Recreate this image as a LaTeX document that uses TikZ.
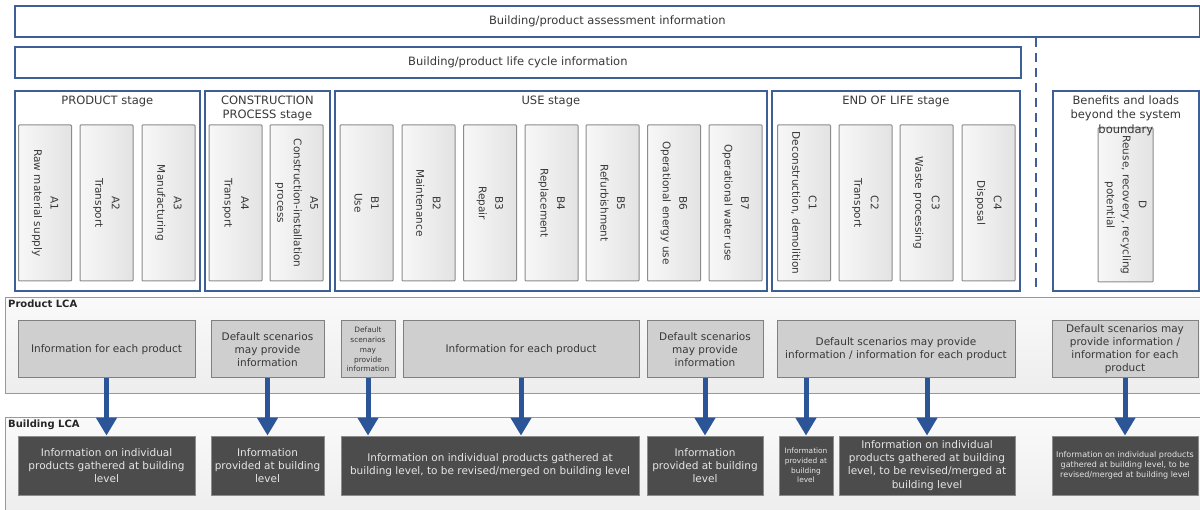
\documentclass[tikz,border=0pt]{standalone}
\usepackage{fontspec}
\setmainfont{DejaVu Sans}
\usetikzlibrary{arrows.meta,positioning}
\definecolor{stageblue}{HTML}{3D5E96}
\definecolor{arrowblue}{HTML}{2B5597}
\colorlet{txtgray}{black!78}
\newcommand{\modrow}{203}
\newcommand{\prow}{349.5}
\newcommand{\brow}{465.5}

\tikzset{
  frame/.style={draw=stageblue, line width=1.7pt, fill=white, inner sep=0pt,
    font=\fontsize{11.5}{15}\selectfont, text=txtgray},
  stagetitle/.style={align=center, inner sep=1pt, font=\fontsize{11.5}{14.5}\selectfont, text=txtgray},
  module/.style={draw=black!45, line width=1pt, rounded corners=0.8pt,
    left color=black!3, right color=black!11, rotate=-90,
    minimum width=156pt, minimum height=53pt, inner sep=1pt, align=center,
    font=\fontsize{10.5}{16.5}\selectfont, text=txtgray},
  panel/.style={draw=black!40, line width=1pt, top color=black!2, bottom color=black!7,
    anchor=north west, minimum width=1205pt, inner sep=0pt},
  paneltitle/.style={anchor=north west, inner sep=1pt, font=\bfseries\fontsize{10}{12}\selectfont, text=black!85},
  prodbox/.style={draw=black!50, line width=1pt, fill=black!19, minimum height=57pt,
    inner sep=1pt, align=center, font=\fontsize{10.5}{13}\selectfont, text=txtgray},
  bldbox/.style={draw=black!45, line width=0.8pt, fill=black!70, minimum height=59pt,
    inner sep=1pt, align=center, font=\fontsize{10.5}{13.2}\selectfont, text=black!10},
  tiny/.style={font=\fontsize{7.4}{9.8}\selectfont},
  flow/.style={draw=arrowblue, line width=5pt, -{Triangle[width=20pt,length=18pt]}}
}

\begin{document}
\begin{tikzpicture}[x=1pt,y=-1pt]
  \useasboundingbox (0,0) rectangle (1200,510);

  % information bands
  \node[frame, anchor=north west, minimum width=1185pt, minimum height=31pt] (assess) at (14,5)
    {Building/product assessment information};
  \node[frame, anchor=north west, minimum width=1006pt, minimum height=31pt] (cycle) at (14,46)
    {Building/product life cycle information};
  \coordinate (dashend) at (1036,292);
  \draw[stageblue, line width=1.6pt, dash pattern=on 9pt off 6pt] (assess.south -| dashend) -- (dashend);

  % stages
  \node[frame, anchor=north west, minimum width=185pt, minimum height=200pt] (prodst) at (14,90) {};
  \node[frame, anchor=north west, minimum width=125pt, minimum height=200pt] (consst) at (204,90) {};
  \node[frame, anchor=north west, minimum width=432pt, minimum height=200pt] (usest) at (334,90) {};
  \node[frame, anchor=north west, minimum width=248pt, minimum height=200pt] (eolst) at (771,90) {};
  \node[frame, anchor=north west, minimum width=146pt, minimum height=200pt] (benst) at (1052,90) {};

  % modules
  \foreach \nm/\cx/\txt in {
      a1/45/{A1\\Raw material supply}, a2/106.5/{A2\\Transport}, a3/168.5/{A3\\Manufacturing},
      a4/235.5/{A4\\Transport}, a5/296.5/{A5\\Construction-installation\\process},
      b1/366.5/{B1\\Use}, b2/428.5/{B2\\Maintenance}, b3/490/{B3\\Repair},
      b4/551.5/{B4\\Replacement}, b5/612.5/{B5\\Refurbishment},
      b6/674/{B6\\Operational energy use}, b7/735.5/{B7\\Operational water use},
      c1/804/{C1\\Deconstruction, demolition}, c2/865.5/{C2\\Transport},
      c3/926.5/{C3\\Waste processing}, c4/988.5/{C4\\Disposal}}
    \node[module] (\nm) at (\cx,\modrow) {\txt};
  \node[module, minimum width=154pt, minimum height=55pt, font=\fontsize{10.5}{16}\selectfont] (d)
    at (1125.5,205) {D\\Reuse, recovery, recycling\\potential};

  \node[stagetitle, below=4.5pt of prodst.north] {PRODUCT stage};
  \node[stagetitle, below=4.5pt of consst.north] {CONSTRUCTION\\PROCESS stage};
  \node[stagetitle, below=4.5pt of usest.north] {USE stage};
  \node[stagetitle, below=4.5pt of eolst.north] {END OF LIFE stage};
  \node[stagetitle, below=4.5pt of benst.north] {Benefits and loads\\beyond the system\\boundary};

  % LCA panels
  \node[panel, minimum height=96pt] (plca) at (5,297) {};
  \node[panel, minimum height=100pt] (blca) at (5,417) {};
  \node[paneltitle] at ([shift={(2pt,-2pt)}]plca.north west) {Product LCA};
  \node[paneltitle] at ([shift={(2pt,-2pt)}]blca.north west) {Building LCA};

  \foreach \nm/\cx/\w/\txt in {
      p1/106.5/177/{Information for each product},
      p2/267.5/113/{Default scenarios\\may provide\\information},
      p4/521/236/{Information for each product},
      p5/705/116/{Default scenarios\\may provide\\information},
      p6/896/238/{Default scenarios may provide\\information / information for each product},
      p7/1125/146/{Default scenarios may\\provide information /\\information for each\\product}}
    \node[prodbox, minimum width=\w pt] (\nm) at (\cx,\prow) {\txt};
  \node[prodbox, tiny, minimum width=54pt] (p3) at (368,\prow)
    {Default\\scenarios\\may\\provide\\information};

  \foreach \nm/\cx/\w/\txt in {
      q1/106.5/177/{Information on individual\\products gathered at building\\level},
      q2/267.5/113/{Information\\provided at building\\level},
      q3/490/298/{Information on individual products gathered at\\building level, to be revised/merged on building level},
      q4/705/116/{Information\\provided at building\\level},
      q6/927/176/{Information on individual\\products gathered at building\\level, to be revised/merged at\\building level}}
    \node[bldbox, minimum width=\w pt] (\nm) at (\cx,\brow) {\txt};
  \node[bldbox, tiny, minimum width=54pt] (q5) at (806,\brow)
    {Information\\provided at\\building\\level};
  \node[bldbox, tiny, minimum width=146pt, font=\fontsize{8}{10}\selectfont] (q7) at (1125,\brow)
    {Information on individual products\\gathered at building level, to be\\revised/merged at building level};

  % flows
  \draw[flow] (p1.south) -- (p1.south |- q1.north);
  \draw[flow] (p2.south) -- (p2.south |- q2.north);
  \draw[flow] (p3.south) -- (p3.south |- q3.north);
  \draw[flow] (p4.south) -- (p4.south |- q3.north);
  \draw[flow] (p5.south) -- (p5.south |- q4.north);
  \draw[flow] (p6.south -| q5.north) -- (q5.north);
  \draw[flow] (p6.south -| q6.north) -- (q6.north);
  \draw[flow] (p7.south) -- (p7.south |- q7.north);
\end{tikzpicture}
\end{document}
